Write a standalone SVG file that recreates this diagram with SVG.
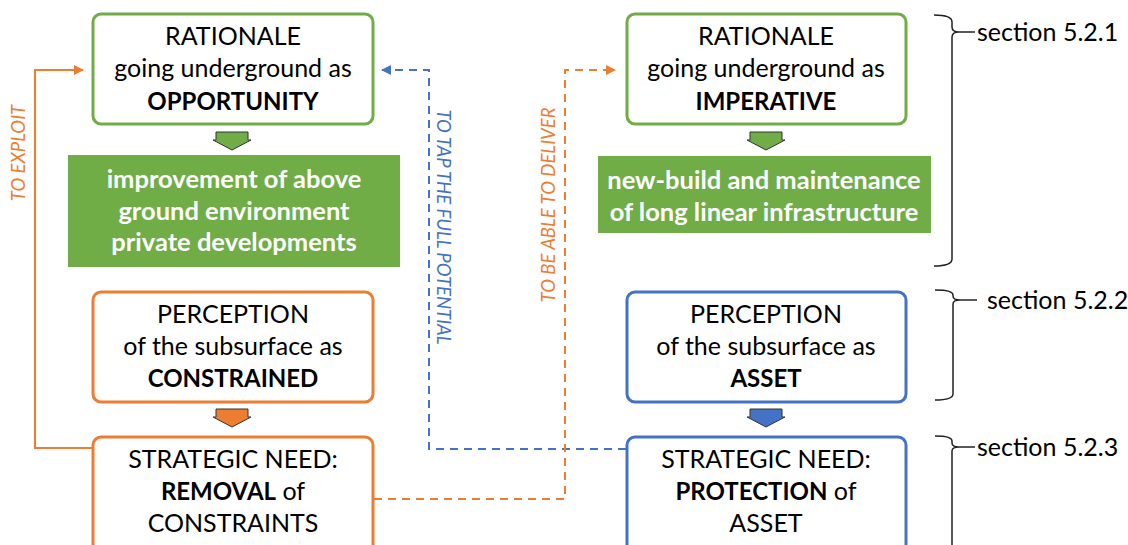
<svg xmlns="http://www.w3.org/2000/svg" width="1128" height="545" viewBox="0 0 1128 545">
  <defs>
    <style>
      .box { fill: #ffffff; stroke-width: 3; }
      .g { stroke: #70AD47; }
      .o { stroke: #ED7D31; }
      .b { stroke: #4472C4; }
      .t { font-family: Lato, "Liberation Sans", sans-serif; font-size: 25px; fill: #000000; text-anchor: middle; }
      .bold { font-weight: bold; font-size: 24px; }
      .wt { font-family: Lato, "Liberation Sans", sans-serif; font-size: 25.5px; font-weight: bold; fill: #ffffff; text-anchor: middle; }
      .lbl { font-family: Lato, "Liberation Sans", sans-serif; font-size: 18.5px; font-style: italic; text-anchor: middle; }
      .sec { font-family: Lato, "Liberation Sans", sans-serif; font-size: 25px; fill: #000000; }
      .barrow { stroke: #333333; stroke-width: 1; }
      .brace { fill: none; stroke: #222222; stroke-width: 1.5; }
    </style>
    <marker id="headO" viewBox="0 0 10 10" refX="9" refY="5" markerWidth="10" markerHeight="10" markerUnits="userSpaceOnUse" orient="auto">
      <path d="M0,0 L10,5 L0,10 Z" fill="#ED7D31"/>
    </marker>
    <marker id="headB" viewBox="0 0 10 10" refX="9" refY="5" markerWidth="10" markerHeight="10" markerUnits="userSpaceOnUse" orient="auto">
      <path d="M0,0 L10,5 L0,10 Z" fill="#4472C4"/>
    </marker>
    <path id="blockArrow" d="M-16,0 H16 V8 H19 L0,18 L-19,8 H-16 Z"/>
  </defs>

  <rect width="1128" height="545" fill="#ffffff"/>

  <!-- connectors -->
  <g id="connectors">
    <polyline points="93,448 35,448 35,70 83,70" fill="none" stroke="#ED7D31" stroke-width="2" marker-end="url(#headO)"/>
    <polyline points="626,449 429,449 429,70 382,70" fill="none" stroke="#4472C4" stroke-width="2" stroke-dasharray="8,6" marker-end="url(#headB)"/>
    <polyline points="374,499 565,499 565,70 615,70" fill="none" stroke="#ED7D31" stroke-width="2" stroke-dasharray="8,6" marker-end="url(#headO)"/>
    <text class="lbl" fill="#ED7D31" transform="translate(25,153) rotate(-90)">TO EXPLOIT</text>
    <text class="lbl" fill="#4472C4" transform="translate(437,227) rotate(90)">TO TAP THE FULL POTENTIAL</text>
    <text class="lbl" fill="#ED7D31" transform="translate(555,205) rotate(-90)">TO BE ABLE TO DELIVER</text>
  </g>

  <!-- left column -->
  <g id="rationale-opportunity">
    <rect class="box g" x="93" y="14" width="280" height="110" rx="8"/>
    <text class="t" x="233" y="45">RATIONALE</text>
    <text class="t" x="233" y="77">going underground as</text>
    <text class="t bold" x="233" y="110">OPPORTUNITY</text>
  </g>
  <use href="#blockArrow" x="232" y="132" fill="#70AD47" class="barrow"/>
  <g id="outcome-above-ground">
    <rect x="68" y="155" width="332" height="112" fill="#70AD47"/>
    <text class="wt" x="234" y="188">improvement of above</text>
    <text class="wt" x="234" y="220">ground environment</text>
    <text class="wt" x="234" y="251">private developments</text>
  </g>
  <g id="perception-constrained">
    <rect class="box o" x="93" y="292" width="280" height="110" rx="8"/>
    <text class="t" x="233" y="323">PERCEPTION</text>
    <text class="t" x="233" y="355">of the subsurface as</text>
    <text class="t bold" x="233" y="387">CONSTRAINED</text>
  </g>
  <use href="#blockArrow" x="232" y="409" fill="#ED7D31" class="barrow"/>
  <g id="need-removal">
    <rect class="box o" x="93" y="437" width="280" height="120" rx="8"/>
    <text class="t" x="233" y="468">STRATEGIC NEED:</text>
    <text class="t" x="233" y="500"><tspan class="bold">REMOVAL</tspan> of</text>
    <text class="t" x="233" y="532">CONSTRAINTS</text>
  </g>

  <!-- right column -->
  <g id="rationale-imperative">
    <rect class="box g" x="627" y="14" width="279" height="110" rx="8"/>
    <text class="t" x="766" y="45">RATIONALE</text>
    <text class="t" x="766" y="77">going underground as</text>
    <text class="t bold" x="766" y="110">IMPERATIVE</text>
  </g>
  <use href="#blockArrow" x="766" y="132" fill="#70AD47" class="barrow"/>
  <g id="outcome-linear-infrastructure">
    <rect x="598" y="156" width="333" height="77" fill="#70AD47"/>
    <text class="wt" x="764" y="189">new-build and maintenance</text>
    <text class="wt" x="764" y="221">of long linear infrastructure</text>
  </g>
  <g id="perception-asset">
    <rect class="box b" x="627" y="292" width="279" height="110" rx="8"/>
    <text class="t" x="766" y="323">PERCEPTION</text>
    <text class="t" x="766" y="355">of the subsurface as</text>
    <text class="t bold" x="766" y="387">ASSET</text>
  </g>
  <use href="#blockArrow" x="766" y="409" fill="#4472C4" class="barrow"/>
  <g id="need-protection">
    <rect class="box b" x="627" y="437" width="279" height="120" rx="8"/>
    <text class="t" x="766" y="468">STRATEGIC NEED:</text>
    <text class="t" x="766" y="500"><tspan class="bold">PROTECTION</tspan> of</text>
    <text class="t" x="766" y="532">ASSET</text>
  </g>

  <!-- section braces -->
  <g id="section-5-2-1">
    <path class="brace" d="M934,15 Q952,15 952,22 V27 Q952,32 959,32 Q952,32 952,37 V259 Q952,266 934,266"/>
    <line x1="959" y1="32" x2="975" y2="32" stroke="#222222" stroke-width="1.5"/>
    <text class="sec" x="977" y="41">section 5.2.1</text>
  </g>
  <g id="section-5-2-2">
    <path class="brace" d="M935,290 Q953,290 953,295 V296 Q953,300 960,300 Q953,300 953,304 V394 Q953,400 935,400"/>
    <line x1="960" y1="300" x2="977" y2="300" stroke="#222222" stroke-width="1.5"/>
    <text class="sec" x="987" y="309">section 5.2.2</text>
  </g>
  <g id="section-5-2-3">
    <path class="brace" d="M935,436 Q952,436 952,441 V443 Q952,447 959,447 Q952,447 952,451 V548"/>
    <line x1="959" y1="447" x2="975" y2="447" stroke="#222222" stroke-width="1.5"/>
    <text class="sec" x="977" y="456">section 5.2.3</text>
  </g>
</svg>
